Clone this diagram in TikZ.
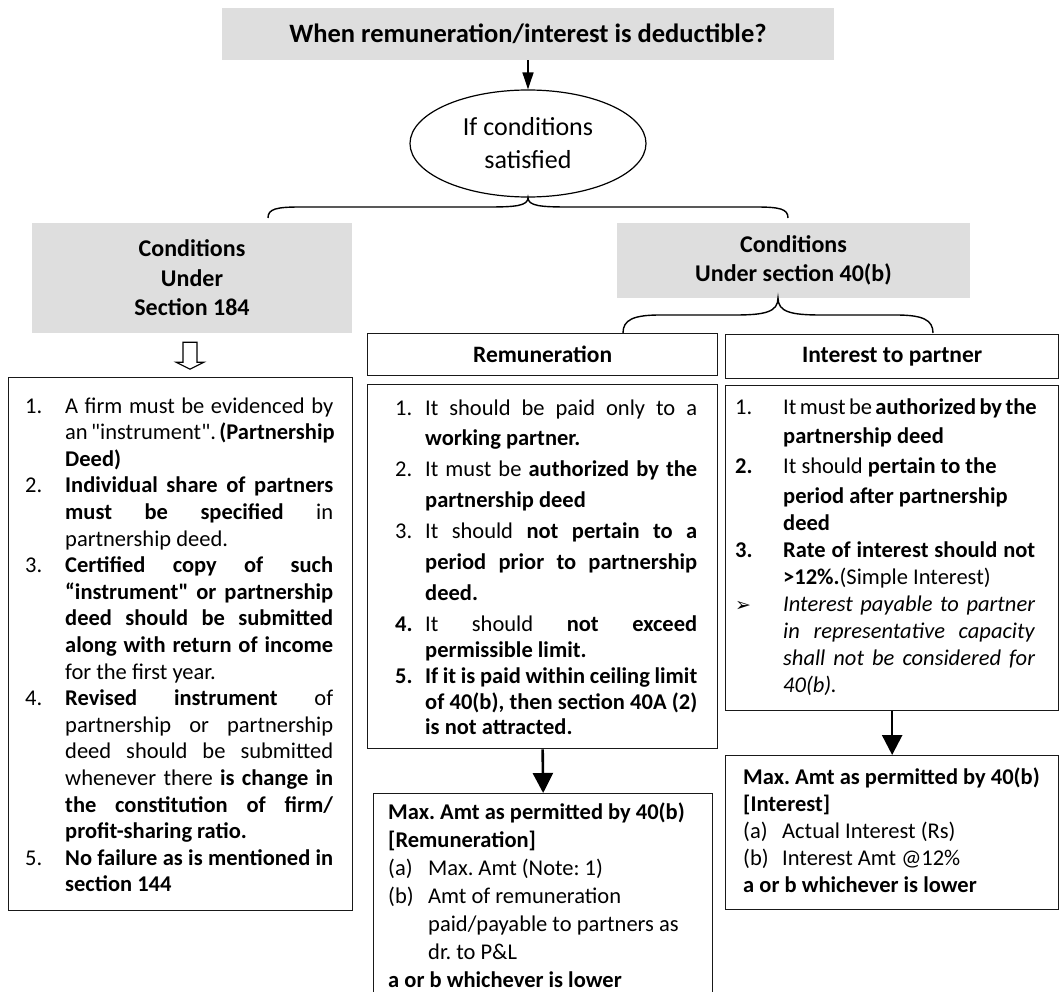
\documentclass[tikz,border=0pt]{standalone}
\usepackage{fontspec}
\setmainfont{Carlito}
\newfontfamily\dejavu{DejaVu Sans}
\usetikzlibrary{arrows.meta,shapes.geometric,calc}
\definecolor{boxgray}{RGB}{222,222,222}
\definecolor{lineblack}{RGB}{25,25,25}
\newlength\nw
\newlength\tw
\newcommand\J[1]{\makebox[\tw][s]{#1}}
\newcommand\N[1]{\makebox[\nw][l]{#1}}
\newcommand\I{\hspace*{\nw}}
\tikzset{
  gbox/.style={fill=boxgray, inner sep=0, align=center, font=\bfseries\fontsize{24pt}{29.5pt}\selectfont},
  wbox/.style={draw=lineblack, line width=1.3pt, inner sep=0, anchor=north west},
  hdr/.style={wbox, font=\bfseries\fontsize{23.5pt}{28pt}\selectfont},
  txt/.style={anchor=base west, inner sep=0},
  bigarrow/.style={draw=black, line width=2.6pt, -{Triangle[width=20pt,length=20pt]}},
  smallarrow/.style={draw=black, line width=1.6pt, -{Triangle[width=11pt,length=17pt]}},
  brace/.style={draw=black, line width=1.4pt},
  hollow/.style={draw=black, line width=1.1pt, fill=white}
}
\begin{document}
\frenchspacing
\begin{tikzpicture}[x=1pt,y=-1pt]
\useasboundingbox (0,0) rectangle (1060,992);

% title
\node[gbox, minimum width=612, minimum height=52, font=\bfseries\fontsize{26.5pt}{30pt}\selectfont] (title) at (528,34) {When remuneration/interest is deductible?};
\node[draw=black, line width=1.2pt, ellipse, minimum width=236, minimum height=107, inner sep=0, align=center, font=\fontsize{26pt}{33pt}\selectfont] (cond) at (528,143.5) {If conditions\\satisfied};
\draw[smallarrow] (title.south) -- (cond.north);

% first brace
\coordinate (b1L) at (268,218);
\coordinate (b1R) at (788,218);
\draw[brace] (b1L) .. controls (268,209) and (276,207) .. (300,207) -- (488,207)
  .. controls (515,207) and (528,206) .. (cond.south)
  .. controls (528,206) and (541,207) .. (568,207) -- (756,207)
  .. controls (780,207) and (788,209) .. (b1R);

% gray boxes
\node[gbox, minimum width=320, minimum height=110] (g184) at (192,278) {Conditions\\Under\\Section 184};
\node[gbox, minimum width=353, minimum height=75] (g40) at (793.5,260.5) {Conditions\\Under section 40(b)};

% second brace
\coordinate (b2L) at (623,333);
\coordinate (b2C) at (778,298);
\coordinate (b2R) at (933,333);
\draw[brace] (b2L) .. controls (623,320) and (633,315) .. (660,315) -- (735,315)
  .. controls (765,315) and (778,312) .. (b2C)
  .. controls (778,312) and (791,315) .. (821,315) -- (896,315)
  .. controls (923,315) and (933,320) .. (b2R);

% hollow arrow
\coordinate (ha) at (g184.south);
\draw[hollow] ($(ha)+(-9,9)$) -- ($(ha)+(5,9)$) -- ($(ha)+(5,29)$) -- ($(ha)+(12,29)$)
  -- ($(ha)+(-2,36)$) -- ($(ha)+(-16,29)$) -- ($(ha)+(-9,29)$) -- cycle;

% boxes
\node[wbox, minimum width=344, minimum height=533] (lbox) at (8,377) {};
\node[hdr, minimum width=350, minimum height=42] (rhdr) at (367,333) {Remuneration};
\node[wbox, minimum width=350, minimum height=364] (rlist) at (367,384) {};
\node[hdr, minimum width=333, minimum height=44] (ihdr) at (725,334) {Interest to partner};
\node[wbox, minimum width=333, minimum height=325] (ilist) at (725,385) {};
\node[wbox, minimum width=339, minimum height=205] (rmax) at (373,793) {};
\node[wbox, minimum width=333, minimum height=154] (imax) at (725,755) {};

\draw[bigarrow] (rlist.south) -- (rmax.north);
\draw[bigarrow] (ilist.south) -- (imax.north);

% left list text
\node[txt] (ltxt) at (25,413) {\parbox[t]{308pt}{\fontsize{22.5pt}{26.6pt}\selectfont\setlength\nw{40pt}\setlength\tw{268pt}%
\N{1.}\J{A firm must be evidenced by}\\
\I\J{an \textquotedbl instrument\textquotedbl. \textbf{(Partnership}}\\
\I\textbf{Deed)}\\
\N{2.}\J{\textbf{Individual share of partners}}\\
\I\J{\textbf{must be specified} in}\\
\I partnership deed.\\
\N{3.}\J{\textbf{Certified copy of such}}\\
\I\J{\textbf{“instrument\textquotedbl\ or partnership}}\\
\I\J{\textbf{deed should be submitted}}\\
\I\J{\textbf{along with return of income}}\\
\I for the first year.\\
\N{4.}\J{\textbf{Revised instrument} of}\\
\I\J{partnership or partnership}\\
\I\J{deed should be submitted}\\
\I\J{whenever there \textbf{is change in}}\\
\I\J{\textbf{the constitution of firm/}}\\
\I\textbf{profit-sharing ratio.}\\
\N{5.}\J{\textbf{No failure as is mentioned in}}\\
\I\textbf{section 144}}};

% remuneration list text
\node[txt] (rtxt) at (395,415) {\parbox[t]{302pt}{\fontsize{22.5pt}{25.9pt}\selectfont\setlength\nw{30pt}\setlength\tw{272pt}%
\N{1.}\J{It should be paid only to a}\\[5pt]
\I\textbf{working partner.}\\[5pt]
\N{2.}\J{It must be \textbf{authorized by the}}\\[5pt]
\I\textbf{partnership deed}\\[5pt]
\N{3.}\J{It should \textbf{not pertain to a}}\\[5pt]
\I\J{\textbf{period prior to partnership}}\\[5pt]
\I\textbf{deed.}\\[5pt]
\N{\textbf{4.}}\J{It should \textbf{not exceed}}\\
\I\textbf{permissible limit.}\\
\N{\textbf{5.}}\J{\textbf{If it is paid within ceiling limit}}\\
\I\J{\textbf{of 40(b), then section 40A (2)}}\\
\I\textbf{is not attracted.}}};

% interest list text
\node[txt] (itxt) at (735,414) {\parbox[t]{300pt}{\fontsize{22.5pt}{26.9pt}\selectfont\setlength\nw{48pt}\setlength\tw{252pt}%
\N{1.}\J{It must be \textbf{authorized by the}}\\[3pt]
\I\textbf{partnership deed}\\[3pt]
\N{\textbf{2.}}It should \textbf{pertain to the}\\[3pt]
\I\textbf{period after partnership}\\
\I\textbf{deed}\\
\N{\textbf{3.}}\J{\textbf{Rate of interest should not}}\\
\I\textbf{>12\%.}(Simple Interest)\\
\N{{\dejavu\fontsize{19pt}{19pt}\selectfont ➢}}\J{\textit{Interest payable to partner}}\\
\I\J{\textit{in representative capacity}}\\
\I\J{\textit{shall not be considered for}}\\
\I\textit{40(b).}}};

% remuneration max text
\node[txt] (rmtxt) at (388,819) {\parbox[t]{320pt}{\fontsize{22.5pt}{28pt}\selectfont\setlength\nw{40pt}%
\textbf{Max. Amt as permitted by 40(b)}\\
\textbf{[Remuneration]}\\
\N{(a)}Max. Amt (Note: 1)\\
\N{(b)}Amt of remuneration\\
\I paid/payable to partners as\\
\I dr. to P\&L\\
\textbf{a or b whichever is lower}}};

% interest max text
\node[txt] (imtxt) at (743,784) {\parbox[t]{310pt}{\fontsize{22.5pt}{27.2pt}\selectfont\setlength\nw{39pt}%
\textbf{Max. Amt as permitted by 40(b)}\\
\textbf{[Interest]}\\
\N{(a)}Actual Interest (Rs)\\
\N{(b)}Interest Amt @12\%\\
\textbf{a or b whichever is lower}}};
\end{tikzpicture}
\end{document}
